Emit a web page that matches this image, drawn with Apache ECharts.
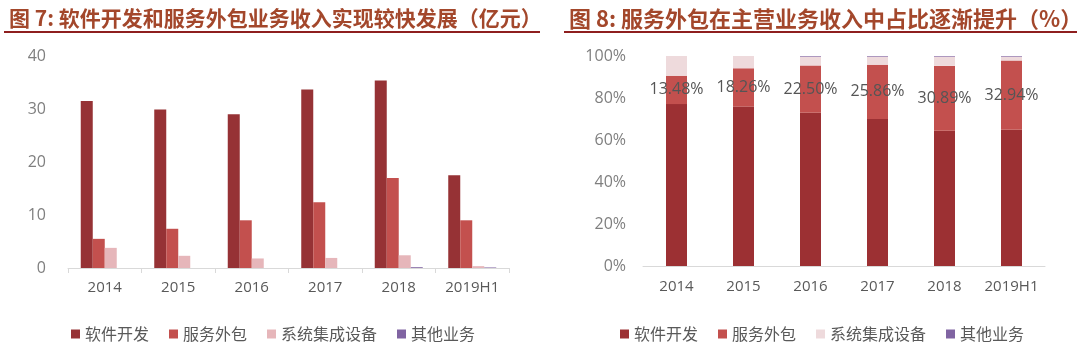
<!DOCTYPE html>
<html>
<head>
<meta charset="utf-8">
<script src="https://cdn.jsdelivr.net/npm/echarts@6/dist/echarts.min.js"></script>
<style>
  html, body { margin: 0; padding: 0; background: #fff; }
  #chart { width: 1080px; height: 351px; }
</style>
</head>
<body>
<div id="chart"></div>
<script>
// categories shared by both panels
const years = ['2014', '2015', '2016', '2017', '2018', '2019H1'];
const seriesNames = ['软件开发', '服务外包', '系统集成设备', '其他业务'];

// fig 7: revenue (亿元)
const softwareRev = [31.5, 29.9, 29.0, 33.7, 35.4, 17.5];
const serviceRev = [5.5, 7.4, 9.0, 12.4, 17.0, 9.0];
const systemRev = [3.8, 2.3, 1.8, 1.9, 2.4, 0.35];
const otherRev = [0, 0, 0, 0, 0.15, 0.1];

// fig 8: share of main business (%)
const softwareShare = [77.1, 75.9, 73.0, 70.0, 64.4, 64.9];
const serviceShare = [13.48, 18.26, 22.50, 25.86, 30.89, 32.94];
const systemShare = [9.42, 5.84, 4.2, 3.84, 4.41, 1.86];
const otherShare = [0, 0, 0.3, 0.3, 0.3, 0.3];

const leftColors = ['#963235', '#c3504e', '#e6b6ba', '#8064a2'];
const rightColors = ['#9c3033', '#c3504e', '#eedadc', '#8064a2'];

const font = "'Open Sans', 'Noto Sans CJK SC', sans-serif";
const titleColor = '#a3472b';

const chart = echarts.init(document.getElementById('chart'), null, {renderer: 'canvas'});

const leftSeries = [softwareRev, serviceRev, systemRev, otherRev].map((d, i) => ({
    name: seriesNames[i],
    type: 'bar',
    xAxisIndex: 0,
    yAxisIndex: 0,
    barWidth: 12,
    barGap: '0%',
    itemStyle: {color: leftColors[i]},
    data: d
}));

const rightSeries = [softwareShare, serviceShare, systemShare, otherShare].map((d, i) => ({
    name: seriesNames[i] + ' ',
    type: 'bar',
    stack: 'share',
    xAxisIndex: 1,
    yAxisIndex: 1,
    barWidth: 21,
    itemStyle: {color: rightColors[i]},
    label: i === 1 ? {
        show: true,
        position: 'inside',
        formatter: p => p.value.toFixed(2) + '%',
        color: '#555',
        fontSize: 16,
        fontFamily: font
    } : {show: false},
    data: d
}));

const option = {
    animation: false,
    textStyle: {fontFamily: font},
    title: [
        {
            text: '图 7: 软件开发和服务外包业务收入实现较快发展（亿元）',
            left: 4, top: 3,
            textStyle: {color: titleColor, fontSize: 21, fontWeight: 'bold', fontFamily: "'Noto Sans CJK SC', sans-serif"}
        },
        {
            text: '图 8: 服务外包在主营业务收入中占比逐渐提升（%）',
            left: 564, top: 3,
            textStyle: {color: titleColor, fontSize: 22, fontWeight: 'bold', fontFamily: "'Noto Sans CJK SC', sans-serif"}
        }
    ],
    graphic: [
        {type: 'line', shape: {x1: 4, y1: 32, x2: 540, y2: 32}, style: {stroke: '#8e1f1f', lineWidth: 2}},
        {type: 'line', shape: {x1: 564, y1: 32, x2: 1077, y2: 32}, style: {stroke: '#8e1f1f', lineWidth: 2}}
    ],
    legend: [
        {
            data: seriesNames,
            left: 66, top: 321,
            itemWidth: 9, itemHeight: 9, itemGap: 20,
            icon: 'rect',
            textStyle: {color: '#595959', fontSize: 16, fontFamily: "'Noto Sans CJK SC', sans-serif"},
            selectedMode: false
        },
        {
            data: seriesNames.map(n => n + ' '),
            left: 615, top: 321,
            itemWidth: 9, itemHeight: 9, itemGap: 20,
            icon: 'rect',
            formatter: n => n.trim(),
            textStyle: {color: '#595959', fontSize: 16, fontFamily: "'Noto Sans CJK SC', sans-serif"},
            selectedMode: false
        }
    ],
    grid: [
        {left: 68, right: 571, top: 56, bottom: 83},
        {left: 643, right: 35, top: 56, bottom: 85}
    ],
    xAxis: [
        {
            type: 'category', gridIndex: 0, data: years,
            axisLine: {lineStyle: {color: '#d9d9d9'}},
            axisTick: {show: true, length: 5, lineStyle: {color: '#d9d9d9'}},
            axisLabel: {color: '#595959', fontSize: 15, margin: 12, interval: 0}
        },
        {
            type: 'category', gridIndex: 1, data: years,
            axisLine: {lineStyle: {color: '#d9d9d9'}},
            axisTick: {show: false},
            axisLabel: {color: '#595959', fontSize: 15, margin: 13, interval: 0}
        }
    ],
    yAxis: [
        {
            type: 'value', gridIndex: 0, min: 0, max: 40, interval: 10,
            splitLine: {show: false},
            axisLine: {show: false},
            axisTick: {show: false},
            axisLabel: {color: '#7f7f7f', fontSize: 16, margin: 22}
        },
        {
            type: 'value', gridIndex: 1, min: 0, max: 100, interval: 20,
            splitLine: {show: false},
            axisLine: {show: false},
            axisTick: {show: false},
            axisLabel: {color: '#7f7f7f', fontSize: 16, margin: 17, formatter: '{value}%'}
        }
    ],
    series: leftSeries.concat(rightSeries)
};

chart.setOption(option);
</script>
</body>
</html>
